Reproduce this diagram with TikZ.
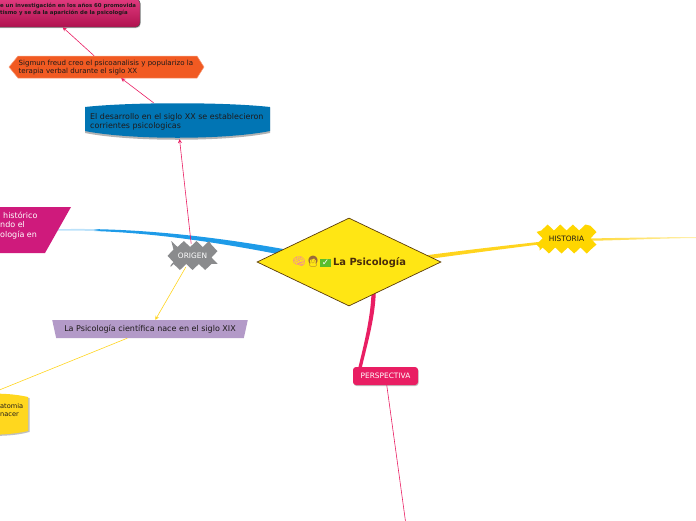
\documentclass[tikz,border=0pt]{standalone}
\usepackage{fontspec}
\setmainfont{DejaVu Sans}
\newfontfamily\emojifont{Noto Emoji}
\usetikzlibrary{shapes.geometric,calc,decorations.pathmorphing,backgrounds,shadows,arrows.meta}
\definecolor{rootfill}{HTML}{FFE614}
\definecolor{rootline}{HTML}{5A3A0A}
\definecolor{rootink}{HTML}{4A2C0A}
\definecolor{bluebr}{HTML}{1E9BE8}
\definecolor{bluefd}{HTML}{BCE2FA}
\definecolor{yellowbr}{HTML}{FFD41E}
\definecolor{yellowfd}{HTML}{FFF0B0}
\definecolor{pinkbr}{HTML}{E91E63}
\definecolor{tapeblue}{HTML}{0175B4}
\definecolor{orangeb}{HTML}{F15A22}
\definecolor{purpleb}{HTML}{B39AC8}
\definecolor{magb}{HTML}{CF1A7C}
\definecolor{topa}{HTML}{E03A7E}
\definecolor{topb}{HTML}{B0124F}
\definecolor{burstgrey}{HTML}{8A8B8D}
\definecolor{burstyellow}{HTML}{FFD600}
\definecolor{noteyellow}{HTML}{FFD71E}
\definecolor{darkink}{HTML}{1E1A1A}
\definecolor{brainc}{HTML}{EE7FA8}
\definecolor{womanc}{HTML}{9A6A3A}
\definecolor{checkc}{HTML}{58BE2C}
\pgfdeclarehorizontalshading{bluefade}{100bp}{color(0bp)=(bluefd); color(25bp)=(bluefd); color(31bp)=(bluefd); color(32bp)=(bluebr); color(100bp)=(bluebr)}
\newcommand{\fs}[2]{\fontsize{#1}{#2}\selectfont}
\tikzset{
  txt/.style={inner sep=0pt,align=left,text=darkink},
  conn/.style={line width=0.6pt,-{Stealth[length=4pt,width=4pt]}},
  pinkc/.style={conn,draw=pinkbr},
  yellc/.style={conn,draw=yellowbr},
  burst/.style={decorate,decoration={zigzag,segment length=12.6pt,amplitude=3pt},inner sep=0pt},
}
\begin{document}
\begin{tikzpicture}[x=1pt,y=-1pt]
\useasboundingbox (0,0) rectangle (696,520);
\clip (0,0) rectangle (696,520);
% shapes behind texts
\fill[gray!60] (85,108) .. controls (130,104) and (225,104) .. (270,108) -- (270,133) .. controls (225,142) and (130,142) .. (85,133) -- cycle;
\fill[tapeblue] (85,107) .. controls (130,102) and (225,102) .. (270,107) -- (270,131) .. controls (225,140) and (130,140) .. (85,131) -- cycle;
\fill[gray!50] (-20,396) .. controls (0,394) and (15,395) .. (29.5,398) -- (29.5,432) .. controls (15,436) and (0,436) .. (-20,436) -- cycle;
\fill[noteyellow] (-20,394) .. controls (0,393) and (15,394) .. (28,397) -- (28,431) .. controls (15,434) and (0,435) .. (-20,435) -- cycle;
\filldraw[fill=orangeb,draw=orangeb!60!white,line width=0.5pt] (9,67) -- (18,56) -- (197,56) -- (204,67) -- (197,78) -- (18,78) -- cycle;
\fill[magb] (-80,207) -- (71,207) -- (45,253) -- (-80,253) -- cycle;

\node[diamond,draw=rootline,line width=0.7pt,fill=rootfill,minimum width=184pt,minimum height=88pt,inner sep=0pt,shape aspect=2.09] (root) at (349,262)
  {\fs{9.9}{12}\bfseries\textcolor{rootink}{{\emojifont\fs{11}{12}\textcolor{brainc}{🧠}\textcolor{womanc}{👩}}\hspace{0.5pt}{\fboxsep=1.4pt\colorbox{checkc}{\textcolor{white}{\fs{8.8}{9}✓}}}\hspace{-1pt} La Psicología}};

\node[burst,fill=burstgrey,text=white,minimum width=44pt,minimum height=23pt] (origen) at (192.5,255.5) {\fs{7.4}{9}ORIGEN};
\node[burst,fill=burstyellow,text=darkink,minimum width=54pt,minimum height=23pt] (historia) at (566.5,239) {\fs{7.4}{9}HISTORIA};
\node[rounded corners=3pt,fill=pinkbr,text=white,minimum width=65pt,minimum height=18pt,inner sep=0pt,drop shadow={shadow xshift=0.6pt,shadow yshift=-1pt,fill=gray,opacity=0.5}] (perspectiva) at (385.5,376) {\fs{7.4}{9}PERSPECTIVA};

\node[minimum width=185pt,minimum height=36pt,inner sep=0pt] (tape) at (177.5,121) {};
\node[txt,anchor=west,font=\fs{7.95}{9.3}] (tapetxt) at (90,121.5) {El desarrollo en el siglo XX se establecieron\\corrientes psicologicas};

\node[minimum width=195pt,minimum height=22pt,inner sep=0pt] (orange) at (106.5,67) {};
\node[txt,anchor=west,font=\fs{7.05}{8}] (orangetxt) at (18.5,67.5) {Sigmun freud creo el psicoanalisis y popularizo la\\terapia verbal durante el siglo XX};

\node[rounded corners=4pt,draw=black!70,line width=0.5pt,top color=topa,bottom color=topb,minimum width=186pt,minimum height=28pt,inner sep=0pt,drop shadow={shadow xshift=0.6pt,shadow yshift=-1pt,fill=gray,opacity=0.5}] (topn) at (47,13) {};
\node[txt,anchor=west,font=\fs{5.4}{7}\bfseries] (toptxt) at (0,9.5) {e un investigación en los años 60 promovida\\tismo y se da la aparición de la psicología};

\node[trapezium,shape border rotate=180,trapezium angle=66,trapezium stretches=true,fill=purpleb,minimum width=196pt,minimum height=18pt,inner sep=0pt,text=darkink] (purple) at (150,329) {\fs{8}{9}La Psicología científica nace en el siglo XIX};

\node[minimum width=140pt,minimum height=46pt,inner sep=0pt] (mag) at (-15,230) {};
\node[txt,anchor=west,text=white,font=\fs{8}{9.5}] (magtxt) at (0,225.5) {\hspace{3pt}histórico\\ndo el\\ología en};

\node[minimum width=176pt,minimum height=38pt,inner sep=0pt] (note) at (-60,414) {};
\node[txt,anchor=west,font=\fs{6.6}{8.5}] (notetxt) at (0,410) {atomia\\nacer};

\coordinate (persend) at (406,525);
\coordinate (blueend) at (58,229.2);
\coordinate (histend) at (696,237);

\draw[pinkc] (origen) -- (tape);
\draw[pinkc] (tape) -- (orange);
\draw[pinkc] (orange) -- (topn);
\draw[yellc] (origen) -- (purple);
\draw[yellc] (purple) -- (note);
\draw[line width=0.6pt,draw=pinkbr] (perspectiva) -- (persend);

\begin{scope}[on background layer]
\clip (0,0) rectangle (696,520);
\shade[shading=bluefade] (blueend) .. controls (150,227) and (250,240.5) .. ($(root.center)+(0,0)$) -- ($(root.center)+(0,7)$) .. controls (250,247) and (150,229) .. ($(blueend)+(0,1.5)$) -- cycle;
\fill[yellowbr] ($(root.center)+(0,4)$) .. controls (430,254) and (500,246) .. ($(historia.center)+(0,0)$) -- ($(historia.center)+(0,2)$) .. controls (500,249.5) and (430,258) .. ($(root.center)+(0,9)$) -- cycle;
\shade[left color=yellowbr,right color=yellowfd] (historia.center) .. controls (610,238) and (650,237.3) .. (histend) -- ($(histend)+(0,1)$) .. controls (650,238.5) and (610,241) .. ($(historia.center)+(0,2)$) -- cycle;
\fill[pinkbr] ($(root.center)+(26.5,14)$) .. controls (378,310) and (368,340) .. ($(perspectiva.north west)+(8.5,3)$) -- ($(perspectiva.north west)+(5,3)$) .. controls (365,340) and (373,310) .. ($(root.center)+(22.5,14)$) -- cycle;
\end{scope}
\end{tikzpicture}
\end{document}
